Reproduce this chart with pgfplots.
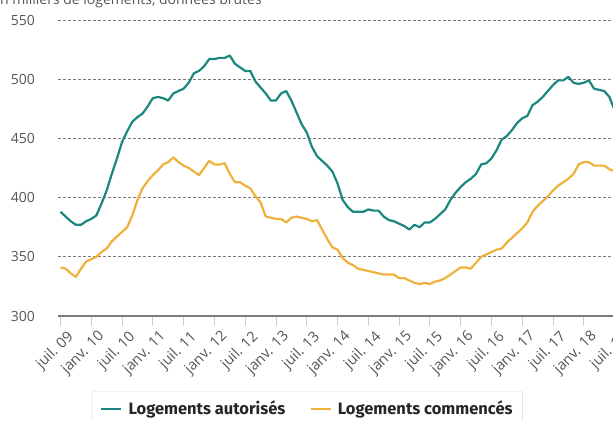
\documentclass[border=0pt]{standalone}
\usepackage{fontspec}
\setmainfont{Open Sans}
\newfontfamily\legfont{Fira Sans}
\usepackage{pgfplots}
\pgfplotsset{compat=1.18}
\usepackage{pgfplotstable}
\definecolor{teal1}{HTML}{1B877E}
\definecolor{gold1}{HTML}{EFB13C}
\definecolor{gridc}{HTML}{7A7A7A}
\definecolor{txtc}{HTML}{555555}

\pgfplotstableread{
m v
0 388
1 384
2 380
3 377
4 377
5 380
6 382
7 385
8 395
9 406
10 420
11 433
12 447
13 456
14 464
15 468
16 471
17 477
18 484
19 485
20 484
21 482
22 488
23 490
24 492
25 497
26 505
27 507
28 511
29 517
30 517
31 518
32 518
33 520
34 513
35 510
36 507
37 507
38 498
39 493
40 488
41 482
42 482
43 488
44 490
45 482
46 472
47 462
48 455
49 443
50 435
51 431
52 427
53 422
54 412
55 398
56 392
57 388
58 388
59 388
60 390
61 389
62 389
63 384
64 381
65 380
66 378
67 376
68 373
69 377
70 375
71 379
72 379
73 382
74 386
75 390
76 398
77 404
78 409
79 413
80 416
81 420
82 428
83 429
84 433
85 440
86 449
87 452
88 457
89 463
90 467
91 469
92 478
93 481
94 485
95 490
96 495
97 499
98 499
99 502
100 497
101 496
102 497
103 499
104 492
105 491
106 490
107 485
108 474
}\autorises

\pgfplotstableread{
m v
0 341
1 340
2 336
3 333
4 340
5 346
6 348
7 350
8 354
9 357
10 363
11 367
12 371
13 375
14 385
15 398
16 408
17 414
18 419
19 423
20 428
21 430
22 434
23 430
24 427
25 425
26 422
27 419
28 425
29 431
30 428
31 428
32 429
33 420
34 413
35 413
36 410
37 408
38 401
39 396
40 384
41 383
42 382
43 382
44 379
45 383
46 384
47 383
48 382
49 380
50 381
51 373
52 365
53 358
54 356
55 349
56 345
57 343
58 340
59 339
60 338
61 337
62 336
63 335
64 335
65 335
66 332
67 332
68 330
69 328
70 327
71 328
72 327
73 329
74 330
75 332
76 335
77 338
78 341
79 341
80 340
81 345
82 350
83 352
84 354
85 356
86 357
87 362
88 366
89 370
90 374
91 379
92 388
93 393
94 397
95 401
96 406
97 410
98 413
99 416
100 420
101 428
102 430
103 430
104 427
105 427
106 427
107 424
108 422
}\commences

\begin{document}
\begin{tikzpicture}
\path[use as bounding box] (0,0) rectangle (613bp,421bp);
\clip (0,0) rectangle (613bp,421bp);
\node[anchor=base west, font=\fontsize{14bp}{16bp}\selectfont, text=txtc, inner sep=0pt] at (-8bp,416bp) {en milliers de logements, données brutes};
\begin{axis}[
  x=5.13bp, y=1.184bp,
  at={(58.45bp,105bp)}, anchor=south west,
  xmin=-0.4, xmax=112, ymin=300, ymax=550,
  axis line style={draw=none},
  ytick={350,400,450,500,550},
  extra y ticks={300},
  extra y tick style={major grid style={solid, draw=gridc, line width=1.3bp}},
  ymajorgrids,
  major grid style={draw=gridc, dash pattern=on 3bp off 2bp, line width=0.9bp},
  ytick style={draw=none},
  yticklabel style={font=\fontsize{14bp}{16bp}\selectfont, text=txtc, xshift=-10bp},
  /pgf/number format/assume math mode=true,
  xtick={0,6,...,108},
  xticklabels={juil. 09, janv. 10, juil. 10, janv. 11, juil. 11, janv. 12, juil. 12, janv. 13, juil. 13, janv. 14, juil. 14, janv. 15, juil. 15, janv. 16, juil. 16, janv. 17, juil. 17, janv. 18, juil. 18},
  xtick pos=bottom,
  tick align=outside,
  major tick length=10bp,
  xtick style={draw=black!20, line width=0.8bp},
  xticklabel style={rotate=45, anchor=north east, font=\fontsize{14.5bp}{16bp}\selectfont, text=txtc, xshift=5bp, yshift=-3bp},
  legend columns=2,
  legend style={at={(0.058,-0.2534)}, anchor=north west, draw=black!15, rounded corners=1.5bp,
    font=\legfont\bfseries\fontsize{16.5bp}{18bp}\selectfont, text=black!85,
    inner xsep=8bp, inner ysep=8bp,
    /tikz/every odd column/.append style={column sep=4bp},
    /tikz/every even column/.append style={column sep=22bp}},
  legend image code/.code={\draw[#1, line width=2.5bp] (0bp,0bp) -- (20bp,0bp);},
]
\addplot[teal1, line width=2.2bp, line join=round] table[x=m, y=v] {\autorises};
\addlegendentry{Logements autorisés}
\addplot[gold1, line width=2.2bp, line join=round] table[x=m, y=v] {\commences};
\addlegendentry{Logements commencés}
\end{axis}
\end{tikzpicture}
\end{document}
